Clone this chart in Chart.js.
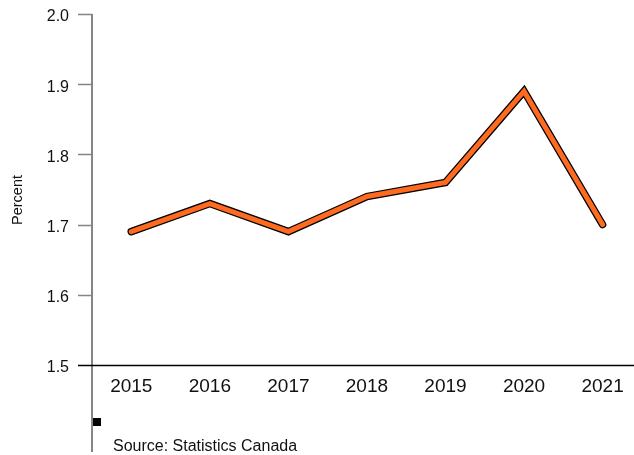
<!DOCTYPE html>
<html>
<head>
<meta charset="utf-8">
<script src="https://cdn.jsdelivr.net/npm/chart.js@4.4.1/dist/chart.umd.min.js"></script>
<style>
  html, body { margin: 0; padding: 0; background: #ffffff; }
  #wrap { width: 634px; height: 455px; }
</style>
</head>
<body>
<div id="wrap"><canvas id="chart" width="634" height="455"></canvas></div>
<script>
// Annual rate, in percent
const years = [2015, 2016, 2017, 2018, 2019, 2020, 2021];
const percentValues = [1.69, 1.73, 1.69, 1.74, 1.76, 1.89, 1.70];
const yTickValues = [1.5, 1.6, 1.7, 1.8, 1.9, 2.0];
const yAxisTitle = 'Percent';
const sourceNote = 'Source: Statistics Canada';

const FONT = '"Liberation Sans", Arial, Helvetica, sans-serif';
const ORANGE = '#ff6a21';

const points = years.map((yr, i) => ({ x: yr, y: percentValues[i] }));

// Axis lines, tick marks, axis title and source note
const frame = {
  id: 'frame',
  beforeDatasetsDraw(chart) {
    const { ctx, chartArea, scales } = chart;
    const y = scales.y;
    const left = chartArea.left;
    const base = y.getPixelForValue(yTickValues[0]);
    ctx.save();
    // vertical axis, running past the plot down to the note
    ctx.strokeStyle = '#858585';
    ctx.lineWidth = 2;
    ctx.beginPath();
    ctx.moveTo(left, y.getPixelForValue(yTickValues[yTickValues.length - 1]));
    ctx.lineTo(left, 452);
    ctx.stroke();
    // tick marks
    ctx.lineWidth = 1.5;
    yTickValues.slice(1).forEach(v => {
      const py = Math.round(y.getPixelForValue(v)) + 0.5;
      ctx.beginPath();
      ctx.moveTo(left - 14, py);
      ctx.lineTo(left, py);
      ctx.stroke();
    });
    // baseline
    ctx.strokeStyle = '#000000';
    ctx.lineWidth = 1.5;
    ctx.beginPath();
    ctx.moveTo(left - 14, Math.round(base) + 0.5);
    ctx.lineTo(chart.width, Math.round(base) + 0.5);
    ctx.stroke();
    // axis title
    ctx.fillStyle = '#111111';
    ctx.font = '14.5px ' + FONT;
    ctx.textAlign = 'center';
    ctx.textBaseline = 'middle';
    ctx.translate(18, 200);
    ctx.rotate(-Math.PI / 2);
    ctx.fillText(yAxisTitle, 0, 0);
    ctx.restore();
    // source note
    ctx.save();
    ctx.fillStyle = '#000000';
    ctx.fillRect(left + 1, 418, 8, 8);
    ctx.fillStyle = '#111111';
    ctx.font = '16px ' + FONT;
    ctx.textAlign = 'left';
    ctx.textBaseline = 'alphabetic';
    ctx.fillText(sourceNote, 113, 451);
    ctx.restore();
  }
};

new Chart(document.getElementById('chart'), {
  type: 'line',
  data: {
    datasets: [
      {
        data: points,
        borderColor: ORANGE,
        borderWidth: 5,
        borderCapStyle: 'round',
        borderJoinStyle: 'miter',
        pointRadius: 0,
        tension: 0
      },
      {
        data: points,
        borderColor: '#000000',
        borderWidth: 7.5,
        borderCapStyle: 'round',
        borderJoinStyle: 'miter',
        pointRadius: 0,
        tension: 0
      }
    ]
  },
  options: {
    responsive: false,
    animation: false,
    events: [],
    layout: { padding: { top: 14, right: 0, bottom: 0, left: 0 } },
    plugins: {
      legend: { display: false },
      tooltip: { enabled: false },
      title: { display: false }
    },
    scales: {
      x: {
        type: 'linear',
        min: 2014.5,
        max: 2021.4,
        grid: { display: false, drawTicks: false },
        border: { display: false },
        afterBuildTicks(scale) { scale.ticks = years.map(v => ({ value: v })); },
        afterFit(scale) {
          scale.height = 90;
          scale.paddingLeft = 0;
          scale.paddingRight = 0;
        },
        ticks: {
          autoSkip: false,
          maxRotation: 0,
          padding: 10,
          color: '#111111',
          font: { family: FONT, size: 19 },
          callback: v => String(v)
        }
      },
      y: {
        min: 1.5,
        max: 2.0,
        grid: { display: false, drawTicks: false },
        border: { display: false },
        afterBuildTicks(scale) { scale.ticks = yTickValues.map(v => ({ value: v })); },
        afterFit(scale) {
          scale.width = 92;
          scale.paddingTop = 0;
          scale.paddingBottom = 0;
        },
        ticks: {
          padding: 23,
          labelOffset: 3,
          color: '#111111',
          font: { family: FONT, size: 16 },
          callback: v => Number(v).toFixed(1)
        }
      }
    }
  },
  plugins: [frame]
});
</script>
</body>
</html>
